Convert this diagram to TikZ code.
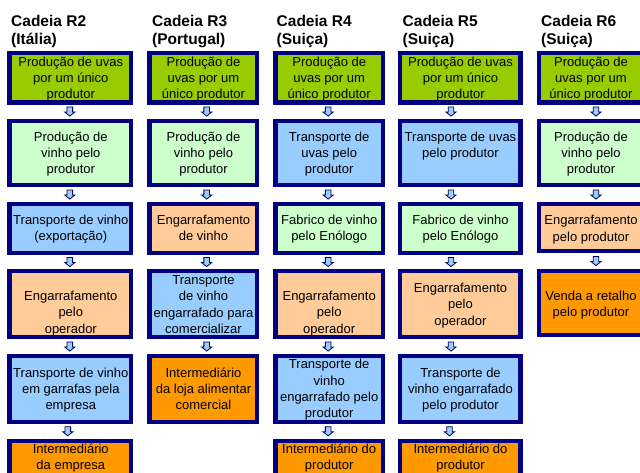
\documentclass[tikz,border=0pt]{standalone}
\usepackage{fontspec}
\setmainfont{Liberation Sans}
\usetikzlibrary{calc}
\definecolor{cGreen}{HTML}{99CC00}
\definecolor{cLGreen}{HTML}{CCFFCC}
\definecolor{cLBlue}{HTML}{99CCFF}
\definecolor{cPeach}{HTML}{FFCC99}
\definecolor{cOrange}{HTML}{FF9900}
\definecolor{cNavy}{HTML}{000080}
\newcommand{\mkbox}[6]{%
  \node[stagebox, fill=#6, minimum width={(#4)-(#2)-4.3}, minimum height={(#5)-(#3)-4.3}]
    (#1) at ({((#2)+(#4))/2},{((#3)+(#5))/2}) {};}
\newcommand{\mkarrow}[4]{%
  \path (#2.south) -- (#3.north) coordinate[pos=0.5, xshift=#4] (#1);
  \draw[downarrow, shift={(#1)}] (-2.8,-4.6) -- (2.8,-4.6) -- (2.8,0.4) -- (5.2,0.4)
     -- (0,4.6) -- (-5.2,0.4) -- (-2.8,0.4) -- cycle;}
\begin{document}
\begin{tikzpicture}[x=1pt,y=-1pt,
  stagebox/.style={draw=cNavy, line width=4.3pt, inner sep=0pt, rectangle},
  txt/.style={font=\fontsize{13}{16.3}\selectfont, align=center, inner sep=0pt, text=black},
  head/.style={font=\fontsize{15.5}{18}\selectfont\bfseries, align=left, inner sep=0pt, anchor=west},
  downarrow/.style={draw=cNavy!60!black, line width=0.8pt, fill=cLBlue, line join=miter}]
\useasboundingbox (0,0) rectangle (640,472);
\clip (0,0) rectangle (640,472);

% headers
\node[head] (h2) at (11,31.4) {\strut Cadeia R2\\\strut (Itália)};
\node[head] (h3) at (152,31.4) {\strut Cadeia R3\\\strut (Portugal)};
\node[head] (h4) at (276.5,31.4) {\strut Cadeia R4\\\strut (Suiça)};
\node[head] (h5) at (402.5,31.4) {\strut Cadeia R5\\\strut (Suiça)};
\node[head] (h6) at (541,31.4) {\strut Cadeia R6\\\strut (Suiça)};

% ---- R2 ----
\mkbox{b21}{7.3}{51}{133.3}{104.5}{cGreen}
\mkbox{b22}{7.3}{118.5}{133.3}{187}{cLGreen}
\mkbox{b23}{7.3}{202}{133.3}{255}{cLBlue}
\mkbox{b24}{7.3}{269}{133.3}{339}{cPeach}
\mkbox{b25}{7.3}{354}{133.3}{424}{cLBlue}
\mkbox{b26}{7.3}{438.5}{133.3}{495}{cOrange}
% ---- R3 ----
\mkbox{b31}{147.3}{51}{259}{104.5}{cGreen}
\mkbox{b32}{147.3}{118.5}{259}{187}{cLGreen}
\mkbox{b33}{147.3}{202}{259}{255}{cPeach}
\mkbox{b34}{147.3}{269}{259}{339}{cLBlue}
\mkbox{b35}{147.3}{354}{259}{424}{cOrange}
% ---- R4 ----
\mkbox{b41}{273.3}{51}{385}{104.5}{cGreen}
\mkbox{b42}{273.3}{118.5}{385}{187}{cLBlue}
\mkbox{b43}{273.3}{202}{385}{255}{cLGreen}
\mkbox{b44}{273.3}{269}{385}{339}{cPeach}
\mkbox{b45}{273.3}{354}{385}{424}{cLBlue}
\mkbox{b46}{273.3}{438.5}{385}{495}{cOrange}
% ---- R5 ----
\mkbox{b51}{397.5}{51}{522.5}{104.5}{cGreen}
\mkbox{b52}{397.5}{118.5}{522.5}{187}{cLBlue}
\mkbox{b53}{397.5}{202}{522.5}{255}{cLGreen}
\mkbox{b54}{397.5}{269}{522.5}{339}{cPeach}
\mkbox{b55}{397.5}{354}{522.5}{424}{cLBlue}
\mkbox{b56}{397.5}{438.5}{522.5}{495}{cOrange}
% ---- R6 ----
\mkbox{b61}{537}{51}{646}{104.5}{cGreen}
\mkbox{b62}{537}{118.5}{646}{187}{cLGreen}
\mkbox{b63}{537}{202}{646}{253}{cPeach}
\mkbox{b64}{537}{269}{646}{337}{cOrange}

% texts R2
\node[txt] (t21) at (70.8,79.3) {\strut Produção de uvas\\\strut por um único\\\strut produtor};
\node[txt] (t22) at (70.8,154.3) {\strut Produção de\\\strut vinho pelo\\\strut produtor};
\node[txt] (t23) at (70.8,229.5) {\strut Transporte de vinho\\\strut (exportação)};
\node[txt] (t24) at (70.8,313.6) {\strut Engarrafamento\\\strut pelo\\\strut operador};
\node[txt] (t25) at (70.8,390.3) {\strut Transporte de vinho\\\strut em garrafas pela\\\strut empresa};
\node[txt] (t26) at (70.8,458.5) {\strut Intermediário\\\strut da empresa};
% texts R3
\node[txt] (t31) at (203.5,79.3) {\strut Produção de\\\strut uvas por um\\\strut único produtor};
\node[txt] (t32) at (203.5,154.3) {\strut Produção de\\\strut vinho pelo\\\strut produtor};
\node[txt] (t33) at (203.5,229.5) {\strut Engarrafamento\\\strut de vinho};
\node[txt] (t34) at (203.5,305.8) {\strut Transporte\\\strut de vinho\\\strut engarrafado para\\\strut comercializar};
\node[txt] (t35) at (203.5,390.3) {\strut Intermediário\\\strut da loja alimentar\\\strut comercial};
% texts R4
\node[txt] (t41) at (329.2,79.3) {\strut Produção de\\\strut uvas por um\\\strut único produtor};
\node[txt] (t42) at (329.2,154.3) {\strut Transporte de\\\strut uvas pelo\\\strut produtor};
\node[txt] (t43) at (329.2,229.5) {\strut Fabrico de vinho\\\strut pelo Enólogo};
\node[txt] (t44) at (329.2,313.5) {\strut Engarrafamento\\\strut pelo\\\strut operador};
\node[txt] (t45) at (329.2,390.1) {\strut Transporte de\\\strut vinho\\\strut engarrafado pelo\\\strut produtor};
\node[txt] (t46) at (329.2,458.5) {\strut Intermediário do\\\strut produtor};
% texts R5
\node[txt] (t51) at (460.5,79.3) {\strut Produção de uvas\\\strut por um único\\\strut produtor};
\node[txt] (t52) at (460.5,146.3) {\strut Transporte de uvas\\\strut pelo produtor};
\node[txt] (t53) at (460.5,229.5) {\strut Fabrico de vinho\\\strut pelo Enólogo};
\node[txt] (t54) at (460.5,305.5) {\strut Engarrafamento\\\strut pelo\\\strut operador};
\node[txt] (t55) at (460.5,390.3) {\strut Transporte de\\\strut vinho engarrafado\\\strut pelo produtor};
\node[txt] (t56) at (460.5,458.5) {\strut Intermediário do\\\strut produtor};
% texts R6
\node[txt] (t61) at (591,79.3) {\strut Produção de\\\strut uvas por um\\\strut único produtor};
\node[txt] (t62) at (591,154.3) {\strut Produção de\\\strut vinho pelo\\\strut produtor};
\node[txt] (t63) at (591,229.8) {\strut Engarrafamento\\\strut pelo produtor};
\node[txt] (t64) at (591,305.5) {\strut Venda a retalho\\\strut pelo produtor};

% arrows
\mkarrow{a21}{b21}{b22}{-0.5pt}
\mkarrow{a22}{b22}{b23}{-0.5pt}
\mkarrow{a23}{b23}{b24}{-0.5pt}
\mkarrow{a24}{b24}{b25}{-0.5pt}
\mkarrow{a25}{b25}{b26}{-2.5pt}
\mkarrow{a31}{b31}{b32}{3.5pt}
\mkarrow{a32}{b32}{b33}{3.5pt}
\mkarrow{a33}{b33}{b34}{3.5pt}
\mkarrow{a34}{b34}{b35}{3.5pt}
\mkarrow{a41}{b41}{b42}{-1pt}
\mkarrow{a42}{b42}{b43}{-1pt}
\mkarrow{a43}{b43}{b44}{-1pt}
\mkarrow{a44}{b44}{b45}{-1pt}
\mkarrow{a45}{b45}{b46}{-1pt}
\mkarrow{a51}{b51}{b52}{-9pt}
\mkarrow{a52}{b52}{b53}{-9pt}
\mkarrow{a53}{b53}{b54}{-9pt}
\mkarrow{a54}{b54}{b55}{-9pt}
\mkarrow{a55}{b55}{b56}{-10.5pt}
\mkarrow{a61}{b61}{b62}{4.5pt}
\mkarrow{a62}{b62}{b63}{4.5pt}
\mkarrow{a63}{b63}{b64}{4.5pt}

% stray marks under text
\draw[line width=1.2pt] (63,101.6) -- (87,101.6);
\draw[line width=1.2pt] (594,101.6) -- (617,101.6);
\draw[line width=1.2pt] (594,251.8) -- (617,251.8);
\end{tikzpicture}
\end{document}
